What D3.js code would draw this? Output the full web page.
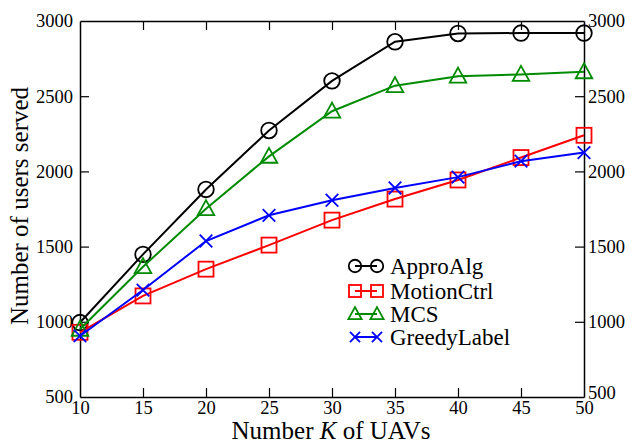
<!DOCTYPE html>
<html>
<head>
<meta charset="utf-8">
<script src="https://cdn.jsdelivr.net/npm/d3@7"></script>
<style>
  html, body { margin: 0; padding: 0; background: #fff; }
  svg text { font-family: "Liberation Serif", "Times New Roman", Times, "DejaVu Serif", serif !important; fill: #000; }
</style>
</head>
<body>
<svg id="chart" width="634" height="443"></svg>
<script>
const categories = [10, 15, 20, 25, 30, 35, 40, 45, 50];
const approAlg    = [995, 1448, 1880, 2272, 2602, 2862, 2917, 2920, 2920];
const motionCtrl  = [930, 1172, 1350, 1510, 1676, 1816, 1943, 2092, 2240];
const mcs         = [950, 1366, 1752, 2100, 2400, 2570, 2633, 2645, 2662];
const greedyLabel = [906, 1211, 1537, 1708, 1808, 1890, 1962, 2068, 2125];
const xTicks = [10, 15, 20, 25, 30, 35, 40, 45, 50];
const yTicks = [500, 1000, 1500, 2000, 2500, 3000];
const seriesNames = ["ApproAlg", "MotionCtrl", "MCS", "GreedyLabel"];
const seriesColors = ["#000000", "#ff0000", "#008b00", "#0000ff"];
const seriesMarkers = ["circle", "square", "triangle", "cross"];

const series = [approAlg, motionCtrl, mcs, greedyLabel].map((vals, i) => ({
  name: seriesNames[i], color: seriesColors[i], marker: seriesMarkers[i],
  values: vals.map((v, j) => ({x: categories[j], y: v}))
}));

const FONT = '"Liberation Serif", "Times New Roman", Times, "DejaVu Serif", serif';
const svg = d3.select("#chart");
const L = 80, R = 584, T = 21, B = 397;
const x = d3.scaleLinear().domain([10, 50]).range([L, R]);
const y = d3.scaleLinear().domain([500, 3000]).range([B, T]);

const tickLen = 9;
const fontTick = 18.5;

// axes
const gB = svg.append("g").attr("transform", `translate(0,${B})`)
  .call(d3.axisBottom(x).tickValues(xTicks).tickSizeInner(-tickLen).tickSizeOuter(0).tickPadding(4).tickFormat(d3.format("d")));
const gT = svg.append("g").attr("transform", `translate(0,${T})`)
  .call(d3.axisTop(x).tickValues(xTicks).tickSizeInner(-tickLen).tickSizeOuter(0).tickFormat(""));
const gL = svg.append("g").attr("transform", `translate(${L},0)`)
  .call(d3.axisLeft(y).tickValues(yTicks).tickSizeInner(-tickLen).tickSizeOuter(0).tickPadding(7).tickFormat(d3.format("d")));
const gR = svg.append("g").attr("transform", `translate(${R},0)`)
  .call(d3.axisRight(y).tickValues(yTicks).tickSizeInner(-tickLen).tickSizeOuter(0).tickPadding(4).tickFormat(d3.format("d")));

[gB, gT, gL, gR].forEach(g => {
  g.attr("font-family", FONT).attr("font-size", fontTick);
  g.select(".domain").attr("stroke", "#000").attr("stroke-width", 1.5);
  g.selectAll(".tick line").attr("stroke", "#000").attr("stroke-width", 1.2);
  g.selectAll(".tick text").attr("font-family", FONT).attr("font-size", fontTick).attr("fill", "#000");
});
// hide edge ticks that coincide with frame
gT.selectAll(".tick").filter(d => d === 10 || d === 50).select("line").remove();
gB.selectAll(".tick").filter(d => d === 10 || d === 50).select("line").remove();
gL.selectAll(".tick").filter(d => d === 500 || d === 3000).select("line").remove();
gR.selectAll(".tick").filter(d => d === 500 || d === 3000).select("line").remove();
gR.selectAll(".tick").filter(d => d === 500).select("text").attr("dy", "0.1em");

// axis titles
svg.append("text").attr("x", (L + R) / 2 - 1).attr("y", 439).attr("text-anchor", "middle")
  .attr("font-family", FONT).attr("font-size", 25)
  .html('Number <tspan font-style="italic">K</tspan> of UAVs');
svg.append("text").attr("transform", `translate(28,${(T + B) / 2 - 3}) rotate(-90)`)
  .attr("font-family", FONT).attr("text-anchor", "middle").attr("font-size", 25).text("Number of users served");

// marker drawing
function drawMarker(g, type, cx, cy, color, s) {
  if (type === "circle") {
    g.append("circle").attr("cx", cx).attr("cy", cy).attr("r", s * 0.52)
      .attr("fill", "none").attr("stroke", color).attr("stroke-width", 1.8);
  } else if (type === "square") {
    g.append("rect").attr("x", cx - s * 0.5).attr("y", cy - s * 0.5).attr("width", s).attr("height", s)
      .attr("fill", "none").attr("stroke", color).attr("stroke-width", 1.8);
  } else if (type === "triangle") {
    const h = s * 0.95, w = s * 1.1;
    const pts = [[cx, cy - h * 0.6], [cx + w / 2, cy + h * 0.45], [cx - w / 2, cy + h * 0.45]];
    g.append("polygon").attr("points", pts.map(p => p.join(",")).join(" "))
      .attr("fill", "none").attr("stroke", color).attr("stroke-width", 1.8);
  } else {
    const d = s * 0.42;
    g.append("path").attr("d", `M${cx - d},${cy - d}L${cx + d},${cy + d}M${cx - d},${cy + d}L${cx + d},${cy - d}`)
      .attr("stroke", color).attr("stroke-width", 1.8).attr("fill", "none");
  }
}

const line = d3.line().x(d => x(d.x)).y(d => y(d.y));
series.forEach(s => {
  const g = svg.append("g");
  g.append("path").datum(s.values).attr("d", line).attr("fill", "none")
    .attr("stroke", s.color).attr("stroke-width", 2);
  s.values.forEach(p => drawMarker(g, s.marker, x(p.x), y(p.y), s.color, 15));
});

// legend
const legY = [266, 291, 314, 337];
series.forEach((s, i) => {
  const g = svg.append("g");
  const ly = legY[i];
  g.append("line").attr("x1", 355).attr("x2", 377).attr("y1", ly).attr("y2", ly)
    .attr("stroke", s.color).attr("stroke-width", 2);
  drawMarker(g, s.marker, 355, ly, s.color, 12);
  drawMarker(g, s.marker, 377, ly, s.color, 12);
  g.append("text").attr("x", 390).attr("y", ly).attr("dy", "0.35em")
    .attr("font-family", FONT).attr("font-size", 23).text(s.name);
});
</script>
</body>
</html>
